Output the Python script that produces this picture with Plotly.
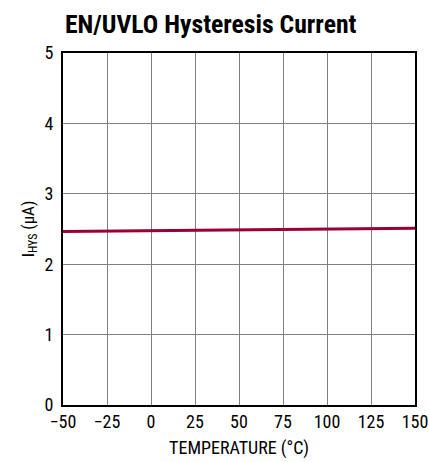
import plotly.graph_objects as go

temp = [-50, -25, 0, 25, 50, 75, 100, 125, 150]
ihys = [2.465, 2.47, 2.475, 2.48, 2.485, 2.49, 2.495, 2.50, 2.51]
xticks = [-50, -25, 0, 25, 50, 75, 100, 125, 150]
xticklabels = ["\u221250", "\u221225", "0", "25", "50", "75", "100", "125", "150"]
yticks = [0, 1, 2, 3, 4, 5]

FONT = "Roboto Condensed, Arial Narrow, sans-serif"

fig = go.Figure()
fig.add_trace(go.Scatter(x=temp, y=ihys, mode="lines",
                         line=dict(color="#990033", width=3), showlegend=False))

fig.update_layout(
    width=429, height=462,
    margin=dict(l=63, r=14, t=53, b=57, autoexpand=False),
    paper_bgcolor="white", plot_bgcolor="white",
    font=dict(family=FONT, size=18, color="black"),
    title=dict(text="<b>EN/UVLO Hysteresis Current</b>", x=0, xref="paper",
               xanchor="left", y=0.989, yref="container", yanchor="top",
               pad=dict(t=10, l=2),
               font=dict(family=FONT, size=25.7, color="black")),
)
fig.update_xaxes(range=[-50, 150], tickvals=xticks, ticktext=xticklabels,
                 showgrid=True, gridcolor="#808080", gridwidth=1,
                 showline=True, linecolor="black", linewidth=2, mirror=True,
                 ticks="", zeroline=False, automargin=False,
                 ticklabeloverflow="allow", ticklabelstandoff=-1,
                 tickfont=dict(size=18),
                 title=dict(text="TEMPERATURE (\u00b0C)", standoff=11,
                            font=dict(size=18)))
fig.update_yaxes(range=[0, 5], tickvals=yticks,
                 showgrid=True, gridcolor="#808080", gridwidth=1,
                 showline=True, linecolor="black", linewidth=2, mirror=True,
                 ticks="", zeroline=False, automargin=False,
                 ticklabeloverflow="allow", ticklabelstandoff=4,
                 tickfont=dict(size=18),
                 title=dict(text="I<sub>HYS</sub> (\u00b5A)", standoff=6,
                            font=dict(size=17)))

fig.write_html("out.html", config={"displayModeBar": False},
               post_script="document.body.style.margin='0';document.body.style.overflow='hidden';")
